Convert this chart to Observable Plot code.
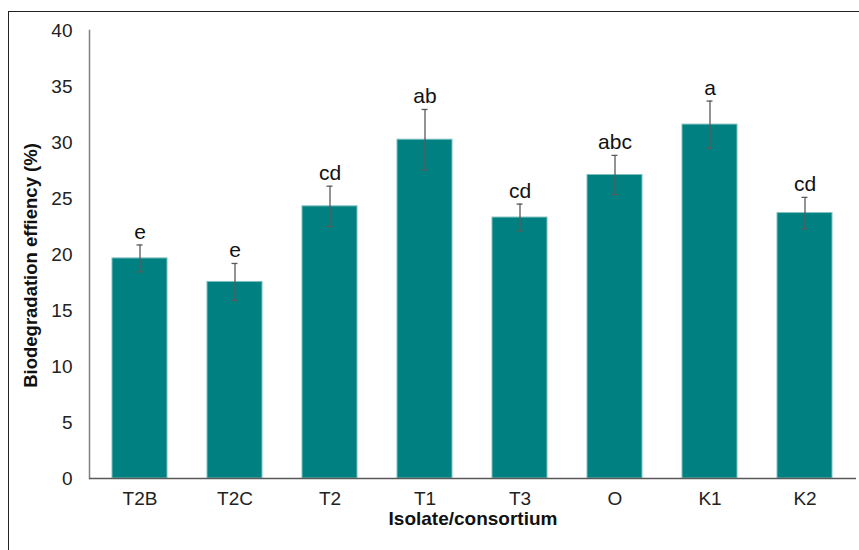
<!DOCTYPE html>
<html>
<head>
<meta charset="utf-8">
<script src="https://cdn.jsdelivr.net/npm/d3@7"></script>
<script src="https://cdn.jsdelivr.net/npm/@observablehq/plot@0.6"></script>
<style>
  html, body { margin: 0; padding: 0; background: #fff; }
  #wrap { position: relative; width: 859px; height: 550px; overflow: hidden; font-family: "Liberation Sans", Arial, sans-serif; }
  #border { position: absolute; left: 8px; top: 11px; width: 900px; height: 600px; border-left: 1.5px solid #222; border-top: 1.5px solid #222; box-sizing: border-box; }
  #chart { position: absolute; left: 0; top: 0; }
</style>
</head>
<body>
<div id="wrap"><div id="border"></div><div id="chart"></div></div>
<script>
const categories = ["T2B", "T2C", "T2", "T1", "T3", "O", "K1", "K2"];
const values = [19.65, 17.55, 24.3, 30.25, 23.3, 27.1, 31.6, 23.7];
const errors = [1.2, 1.65, 1.8, 2.7, 1.2, 1.75, 2.1, 1.4];
const letters = ["e", "e", "cd", "ab", "cd", "abc", "a", "cd"];
const yTicks = [0, 5, 10, 15, 20, 25, 30, 35, 40];

const data = categories.map((c, i) => ({cat: c, v: values[i], e: errors[i], lab: letters[i]}));

const chart = Plot.plot({
  width: 859,
  height: 550,
  marginLeft: 89,
  marginRight: 3,
  marginTop: 30,
  marginBottom: 72,
  style: {fontFamily: "'Liberation Sans', Arial, sans-serif", background: "transparent", color: "#222"},
  x: {domain: categories, paddingInner: 0.42, paddingOuter: 0.21, label: null},
  y: {domain: [0, 40], label: null},
  marks: [
    Plot.barY(data, {x: "cat", y: "v", fill: "#008080", stroke: "#7fc0c0", strokeWidth: 1}),
    Plot.ruleX(data, {x: "cat", y1: d => d.v - d.e, y2: d => d.v + d.e, stroke: "#5a5a5a", strokeWidth: 1.3}),
    Plot.tickY(data, {x: "cat", y: d => d.v + d.e, stroke: "#5a5a5a", strokeWidth: 1.3, insetLeft: 24.5, insetRight: 24.5}),
    Plot.tickY(data, {x: "cat", y: d => d.v - d.e, stroke: "#5a5a5a", strokeWidth: 1.3, insetLeft: 24.5, insetRight: 24.5}),
    Plot.text(data, {x: "cat", y: d => d.v + d.e, text: "lab", lineAnchor: "bottom", dy: -6, fontSize: 21, fill: "#111"}),
    Plot.axisY({ticks: yTicks, tickSize: 0, tickPadding: 17, fontSize: 19, label: null, tickFormat: d => String(d), fill: "#222"}),
    Plot.axisX({tickSize: 0, tickPadding: 13, fontSize: 19, label: null, fill: "#222"}),
    Plot.frame({anchor: "left", stroke: "#808080", strokeWidth: 1.5}),
    Plot.ruleY([0], {stroke: "#595959", strokeWidth: 1.5}),
    Plot.text(["Biodegradation effiency (%)"], {frameAnchor: "left", textAnchor: "middle", dx: -58, dy: 11, rotate: -90, fontWeight: "bold", fontSize: 18.5, fill: "#111"}),
    Plot.text(["Isolate/consortium"], {frameAnchor: "bottom", dy: 46, fontWeight: "bold", fontSize: 19, fill: "#111"})
  ]
});
document.getElementById("chart").appendChild(chart);
</script>
</body>
</html>
